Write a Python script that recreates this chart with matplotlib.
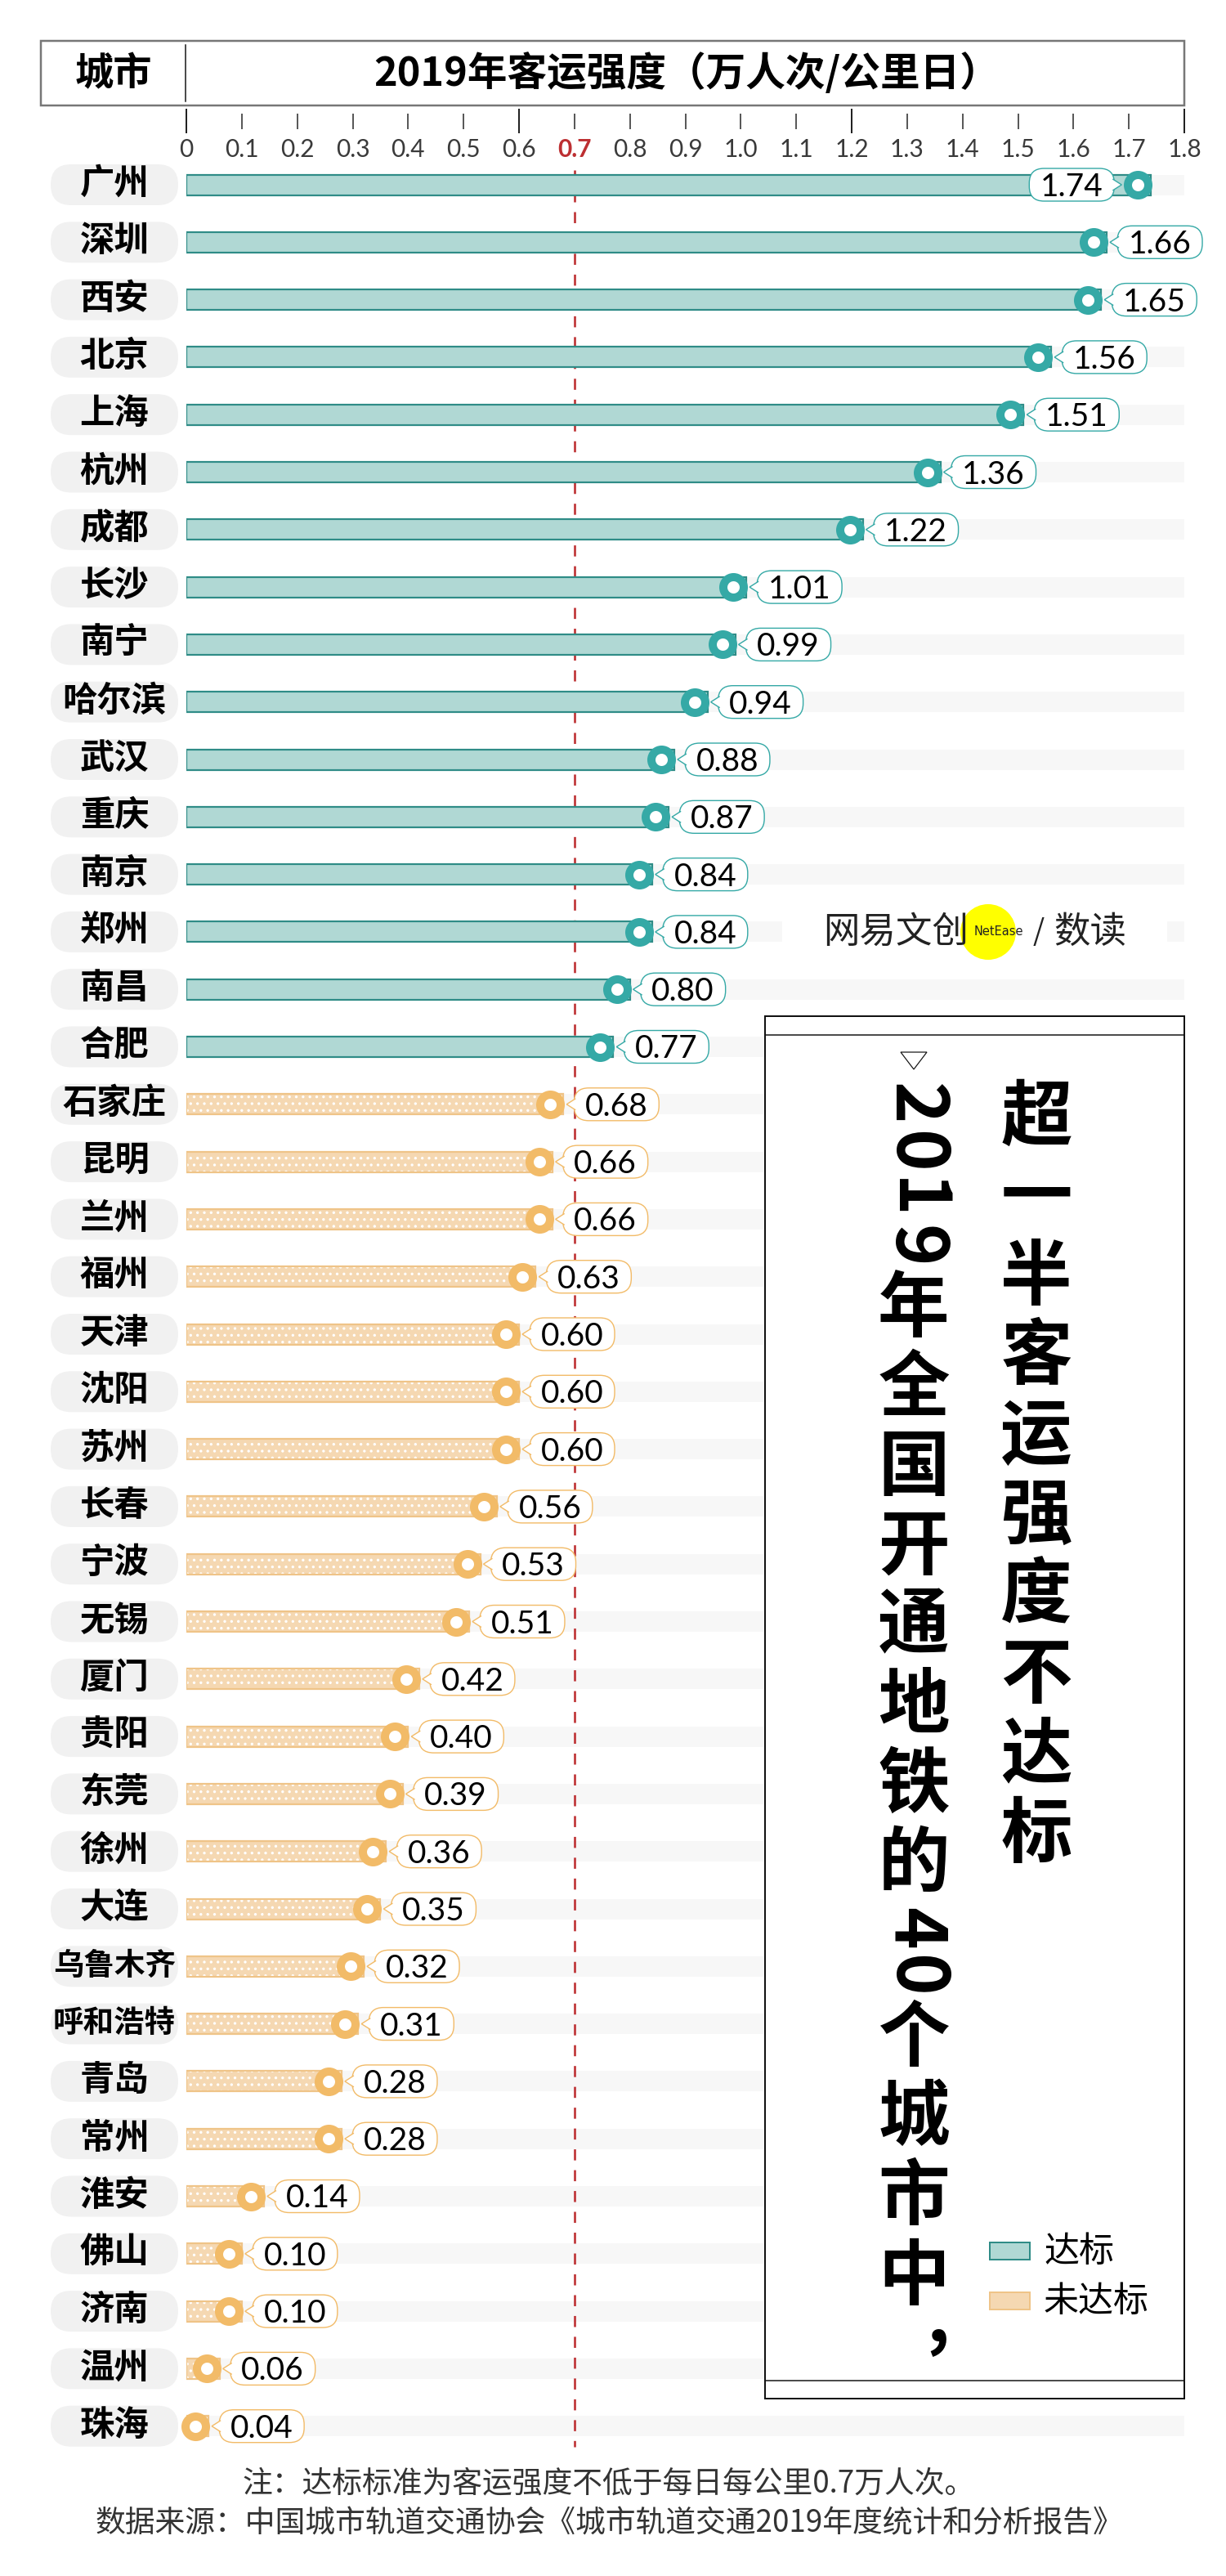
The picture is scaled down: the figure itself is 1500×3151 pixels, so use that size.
import numpy as np
import matplotlib
matplotlib.use("Agg")
import matplotlib.pyplot as plt
from matplotlib.patches import FancyBboxPatch, Rectangle, Polygon, Circle
from matplotlib.transforms import ScaledTranslation, blended_transform_factory

plt.rcParams['font.family'] = ['Noto Sans CJK SC', 'DejaVu Sans']
plt.rcParams['hatch.color'] = 'white'
plt.rcParams['hatch.linewidth'] = 1.2

# data
cities = ['广州', '深圳', '西安', '北京', '上海', '杭州', '成都', '长沙', '南宁', '哈尔滨',
          '武汉', '重庆', '南京', '郑州', '南昌', '合肥', '石家庄', '昆明', '兰州', '福州',
          '天津', '沈阳', '苏州', '长春', '宁波', '无锡', '厦门', '贵阳', '东莞', '徐州',
          '大连', '乌鲁木齐', '呼和浩特', '青岛', '常州', '淮安', '佛山', '济南', '温州', '珠海']
values = [1.74, 1.66, 1.65, 1.56, 1.51, 1.36, 1.22, 1.01, 0.99, 0.94,
          0.88, 0.87, 0.84, 0.84, 0.80, 0.77, 0.68, 0.66, 0.66, 0.63,
          0.60, 0.60, 0.60, 0.56, 0.53, 0.51, 0.42, 0.40, 0.39, 0.36,
          0.35, 0.32, 0.31, 0.28, 0.28, 0.14, 0.10, 0.10, 0.06, 0.04]
standard = 0.7
xmax = 1.8
major_ticks = [0, 0.6, 1.2, 1.8]
minor_ticks = [0.1, 0.2, 0.3, 0.4, 0.5, 0.7, 0.8, 0.9, 1.0, 1.1, 1.3, 1.4, 1.5, 1.6, 1.7]
title = '2019年客运强度（万人次/公里日）'
side_title = '超一半客运强度不达标'
side_sub = '2019年全国开通地铁的40个城市中，'
legend_labels = ['达标', '未达标']
note = '注：达标标准为客运强度不低于每日每公里0.7万人次。'
source = '数据来源：中国城市轨道交通协会《城市轨道交通2019年度统计和分析报告》'

# colours
teal_fill = '#b0d8d4'
teal_edge = '#2f8c87'
teal_mark = '#35a9a6'
org_fill = '#f5d8b2'
org_edge = '#efc488'
org_mark = '#f2bb68'
track = '#f7f7f7'
red = '#bd2f32'

W, H = 1500, 3151
PT = 0.72  # px -> pt at dpi 100
ROW0, PITCH = 226, 70.3

fig = plt.figure(figsize=(W / 100, H / 100), dpi=100)
fig.patch.set_facecolor('white')

# main data axes: x 0..1.8 spans px 228..1449, top at px 148
ax_top = 148
ax = fig.add_axes([228 / W, 0, (1449 - 228) / W, 1 - ax_top / H])
ax.set_xlim(0, xmax)
ax.set_ylim((H - ROW0) / PITCH, (ax_top - ROW0) / PITCH)
ax.patch.set_visible(False)
for s in ax.spines.values():
    s.set_visible(False)
ax.xaxis.tick_top()
ax.set_xticks(major_ticks)
ax.set_xticks(minor_ticks, minor=True)
ax.set_yticks([])
ax.tick_params(axis='x', which='major', direction='inout', length=30 * PT, width=2 * PT,
               color='#222', labeltop=False, labelbottom=False, bottom=False)
ax.tick_params(axis='x', which='minor', direction='inout', length=19 * PT, width=1.5 * PT,
               color='#222', labeltop=False, labelbottom=False, bottom=False)
mt = ax.xaxis.get_minor_ticks()
mt[minor_ticks.index(standard)].tick2line.set_color(red)

# overlay axes in pixel coords for decorations
ov = fig.add_axes([0, 0, 1, 1], zorder=5)
ov.set_xlim(0, W)
ov.set_ylim(H, 0)
ov.axis('off')

# tick labels
tr_lab = blended_transform_factory(ax.transData, ov.transData)
for t in sorted(major_ticks + minor_ticks):
    lab = '0' if t == 0 else f'{t:.1f}'
    is_std = t == standard
    ax.text(t, 183, lab, transform=tr_lab, ha='center', va='center', fontsize=21.5,
            color=red if is_std else '#3a3a3a', weight='bold' if is_std else 'normal',
            family=['Lato', 'DejaVu Sans'], clip_on=False)

rows = np.arange(len(cities))
vals = np.array(values)
ok = vals >= standard
bh = 25 / PITCH

# background tracks
ax.barh(rows, xmax, height=bh, color=track, zorder=1)
# standard line
ax.vlines(standard, (208 - ROW0) / PITCH, (2993 - ROW0) / PITCH, colors=red,
          linewidth=2.6 * PT, linestyles=(0, (5.2, 4.6)), zorder=1.5)
# bars
ax.barh(rows[ok], vals[ok], height=bh, color=teal_fill, edgecolor=teal_edge,
        linewidth=2.2 * PT, zorder=2)
ax.barh(rows[~ok], vals[~ok], height=bh, color=org_fill, hatch='..', zorder=2)
ax.barh(rows[~ok], vals[~ok], height=bh, fill=False, edgecolor=org_edge,
        linewidth=2.2 * PT, zorder=2.1)

# markers (slightly left of the bar end, like the original)
mk_off = ax.transData + ScaledTranslation(-16 / 100, 0, fig.dpi_scale_trans)
ax.plot(vals[ok], rows[ok], 'o', linestyle='none', ms=25 * PT, mew=10 * PT,
        mfc='white', mec=teal_mark, transform=mk_off, zorder=4, clip_on=False)
ax.plot(vals[~ok], rows[~ok], 'o', linestyle='none', ms=25 * PT, mew=10 * PT,
        mfc='white', mec=org_mark, transform=mk_off, zorder=4, clip_on=False)

# value labels and city pills
bw, bhh = 104, 40
for i, (c, v) in enumerate(zip(cities, values)):
    col = teal_mark if v >= standard else org_mark
    T = fig.dpi_scale_trans + ScaledTranslation(v, i, ax.transData)
    if v >= 1.7:
        x0 = -16 - 29 - bw
        tip = -16 - 20
        edge_x = x0 + bw
        poly = [(edge_x - 2, 7), (tip, 0), (edge_x - 2, -7)]
    else:
        x0 = -16 + 29
        tip = -16 + 20
        poly = [(x0 + 2, 7), (tip, 0), (x0 + 2, -7)]
    box = FancyBboxPatch((x0 / 100, -bhh / 200), bw / 100, bhh / 100,
                         boxstyle='round,pad=0,rounding_size=0.18', transform=T,
                         fc='white', ec=col, lw=1.4 * PT, zorder=5, clip_on=False)
    ax.add_patch(box)
    ax.add_patch(Polygon([(p[0] / 100, p[1] / 100) for p in poly], closed=False,
                         transform=T, fc='white', ec=col, lw=1.4 * PT, zorder=5.1,
                         clip_on=False))
    ax.text((x0 + bw / 2) / 100, -0.14, f'{v:.2f}', transform=T, ha='center',
            va='baseline', fontsize=28, family=['Lato', 'DejaVu Sans'], color='black',
            zorder=6, clip_on=False)

    T0 = fig.dpi_scale_trans + ScaledTranslation(0, i, ax.transData)
    ax.add_patch(FancyBboxPatch((-166 / 100, -0.25), 156 / 100, 0.5,
                                boxstyle='round,pad=0,rounding_size=0.25', transform=T0,
                                fc='#f1f1f1', ec='none', zorder=3, clip_on=False))
    fs = 27 if len(c) >= 4 else 30.5
    ax.text(-88 / 100, 0.01, c, transform=T0, ha='center', va='center', fontsize=fs,
            weight='bold', color='black', zorder=6, clip_on=False)

# header
ov.add_patch(Rectangle((50, 50), 1399, 79, fill=False, ec='#777', lw=2.5 * PT))
ov.plot([227, 227], [55, 124], color='#111', lw=1.5 * PT)
ov.text(139, 90, '城市', ha='center', va='center', fontsize=34, weight='bold')
ov.text(840, 90, title, ha='center', va='center', fontsize=35, weight='bold')

# logo
ov.add_patch(Rectangle((957, 1120), 471, 40, fc='white', ec='none', zorder=1))
ov.add_patch(Circle((1209, 1140), 34, fc='#ffff00', ec='none', zorder=2))
ov.text(1096, 1140, '网易文创', ha='center', va='center', fontsize=32, weight='light',
        color='#222', zorder=3)
ov.text(1222, 1139, 'NetEase', ha='center', va='center', fontsize=10.5,
        family=['DejaVu Sans'], color='#222', zorder=3)
ov.text(1271, 1140, '/', ha='center', va='center', fontsize=26, weight='light',
        color='#222', zorder=3)
ov.text(1334, 1140, '数读', ha='center', va='center', fontsize=32, color='#222', zorder=3)

# side box
ov.add_patch(Rectangle((936, 1243), 1449 - 936, 2934 - 1243, fc='white', ec='#111',
                       lw=2 * PT, zorder=4))
ov.plot([936, 1449], [1266, 1266], color='#111', lw=1.5 * PT, zorder=5)
ov.plot([936, 1449], [2912, 2912], color='#111', lw=1.5 * PT, zorder=5)
ov.add_patch(Polygon([(1102, 1287), (1134, 1287), (1118, 1308)], closed=True,
                     fill=False, ec='#111', lw=1.2 * PT, zorder=5))

y = 1320
for ch in side_title:
    ov.text(1268, y + 48.7, ch, ha='center', va='center', fontsize=63, weight='bold',
            zorder=6)
    y += 97.4

# vertical subtitle: digits turned sideways, the final comma kept with its character
y = 1322
chars = list(side_sub)
k = 0
while k < len(chars):
    ch = chars[k]
    if ch.isdigit():
        ov.text(1118, y + 29, ch, rotation=-90, ha='center', va='center', fontsize=63,
                weight='bold', zorder=6)
        y += 58
    elif k + 1 < len(chars) and chars[k + 1] == '，':
        ov.text(1118, y + 6, ch + '\n,', ha='center', va='top', multialignment='right',
                linespacing=0.45, fontsize=63, weight='bold', zorder=6)
        y += 97
        k += 1
    else:
        ov.text(1118, y + 48.5, ch, ha='center', va='center', fontsize=63, weight='bold',
                zorder=6)
        y += 97
    k += 1

# legend
ov.add_patch(Rectangle((1211, 2743), 49, 21, fc=teal_fill, ec=teal_edge, lw=2 * PT, zorder=6))
ov.add_patch(Rectangle((1211, 2804), 49, 21, fc=org_fill, hatch='..', ec='none', zorder=6))
ov.add_patch(Rectangle((1211, 2804), 49, 21, fill=False, ec=org_edge, lw=2 * PT, zorder=6))
ov.text(1277, 2755, legend_labels[0], ha='left', va='center', fontsize=31, zorder=6)
ov.text(1277, 2816, legend_labels[1], ha='left', va='center', fontsize=31, zorder=6)

# footer
ov.text(745, 3038, note, ha='center', va='center', fontsize=26.5, color='#333')
ov.text(745, 3087, source, ha='center', va='center', fontsize=26.5, color='#333')

fig.savefig('out.png', dpi=100, facecolor='white')
